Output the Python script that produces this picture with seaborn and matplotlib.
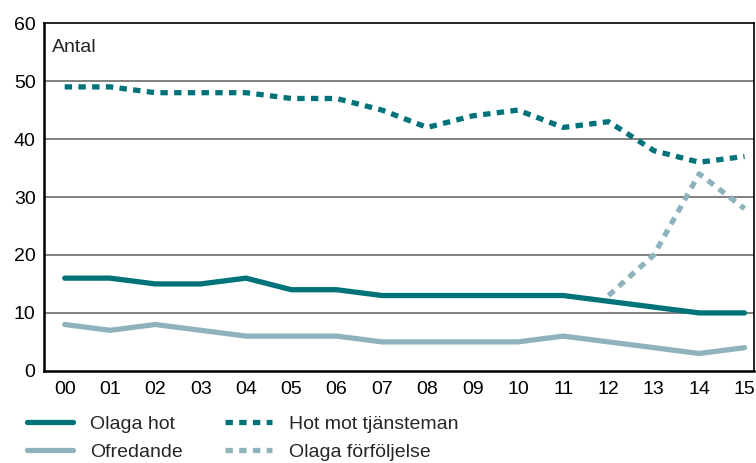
import pandas as pd
import numpy as np
import matplotlib.pyplot as plt
import seaborn as sns

# =========================
# DATA
# =========================

years = ["00", "01", "02", "03", "04", "05", "06", "07",
         "08", "09", "10", "11", "12", "13", "14", "15"]

olaga_hot = [16, 16, 15, 15, 16, 14, 14, 13, 13, 13, 13, 13, 12, 11, 10, 10]
ofredande = [8, 7, 8, 7, 6, 6, 6, 5, 5, 5, 5, 6, 5, 4, 3, 4]
hot_tjansteman = [49, 49, 48, 48, 48, 47, 47, 45, 42, 44, 45, 42, 43, 38, 36, 37]
forfoljelse = [None] * 12 + [13, 20, 34, 28]

dark = "#00737A"
light = "#8FB3BC"

sns.set_theme(style="white")
plt.rcParams["font.family"] = ["Liberation Sans", "DejaVu Sans"]

df = pd.DataFrame({
    "x": np.arange(len(years)),
    "Olaga hot": olaga_hot,
    "Ofredande": ofredande,
    "Hot mot tjänsteman": hot_tjansteman,
    "Olaga förföljelse": forfoljelse,
}).astype(float)

fig = plt.figure(figsize=(7.56, 4.63), dpi=100)
ax = fig.add_axes([0.058, 0.199, 0.940, 0.751])

# gridlines behind the lines
for g in [10, 20, 30, 40, 50]:
    ax.axhline(g, color="#6b6b6b", lw=1.2, zorder=0)

sns.lineplot(data=df, x="x", y="Olaga hot", ax=ax, color=dark, lw=3.8,
             label="Olaga hot")
sns.lineplot(data=df, x="x", y="Ofredande", ax=ax, color=light, lw=3.8,
             label="Ofredande")
sns.lineplot(data=df, x="x", y="Hot mot tjänsteman", ax=ax, color=dark,
             lw=3.8, label="Hot mot tjänsteman")
sns.lineplot(data=df, x="x", y="Olaga förföljelse", ax=ax, color=light,
             lw=3.8, label="Olaga förföljelse")

# dotted style for the last two lines
ax.lines[-2].set_dashes((1.4, 1.2))
ax.lines[-1].set_dashes((1.4, 1.2))

ax.set_xlim(-0.46, 15.22)
ax.set_ylim(0, 60)
ax.set_yticks([0, 10, 20, 30, 40, 50, 60])
ax.set_xticks(range(len(years)))
ax.set_xticklabels(years)
ax.set_xlabel("")
ax.set_ylabel("")
ax.tick_params(axis="both", length=0, labelsize=14, colors="black")
ax.tick_params(axis="x", pad=7)
ax.tick_params(axis="y", pad=6)

for s in ax.spines.values():
    s.set_color("black")
    s.set_linewidth(1.2)
ax.spines["left"].set_linewidth(1.8)
ax.spines["bottom"].set_linewidth(1.8)

ax.text(0.012, 0.955, "Antal", transform=ax.transAxes, fontsize=14,
        va="top", ha="left")

ax.legend(ncol=2, loc="upper left", bbox_to_anchor=(-0.035, -0.105),
          frameon=False, fontsize=14, handlelength=2.4, handletextpad=0.85,
          columnspacing=2.2, labelspacing=0.55, borderaxespad=0)

plt.savefig("out.png", dpi=100)
